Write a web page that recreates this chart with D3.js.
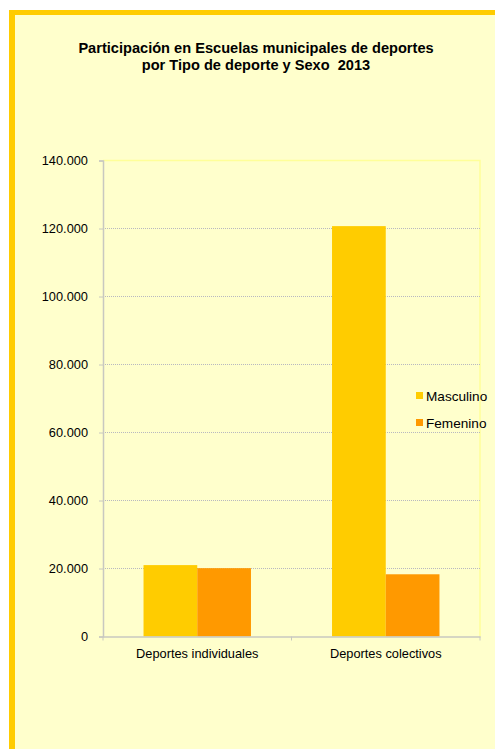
<!DOCTYPE html>
<html>
<head>
<meta charset="utf-8">
<script src="https://cdn.jsdelivr.net/npm/d3@7"></script>
<style>
  body { margin: 0; background: #fff; }
  text { font-family: "Liberation Sans", Arial, sans-serif; fill: #000; }
</style>
</head>
<body>
<svg id="chart" width="495" height="749"></svg>
<script>
// chart data
var categories = ["Deportes individuales", "Deportes colectivos"];
var series = ["Masculino", "Femenino"];
var masculino = [21000, 120700];
var femenino = [20100, 18300];
var yTicks = [0, 20000, 40000, 60000, 80000, 100000, 120000, 140000];
var colors = ["#FFCC00", "#FF9900"];

var svg = d3.select("#chart");

// outer frame
svg.append("rect").attr("x", 9).attr("y", 10).attr("width", 486).attr("height", 739)
    .attr("fill", "#FFCC00");
svg.append("rect").attr("x", 15).attr("y", 15).attr("width", 480).attr("height", 734)
    .attr("fill", "#FFFFCC");

// title
var title = svg.append("text").attr("text-anchor", "middle")
    .style("font-weight", "bold").style("font-size", "14.6px").style("white-space", "pre");
title.append("tspan").attr("x", 256).attr("y", 53).text("Participación en Escuelas municipales de deportes");
title.append("tspan").attr("x", 256).attr("y", 69.5).text("por Tipo de deporte y Sexo  2013");

var margin = {left: 103, top: 160.5, right: 480, bottom: 636.5};

var x = d3.scaleBand().domain(categories).range([margin.left, margin.right]).paddingInner(0).paddingOuter(0);
var y = d3.scaleLinear().domain([0, 140000]).range([margin.bottom, margin.top]);

// plot area border (top/right)
svg.append("path")
    .attr("d", "M" + margin.left + "," + margin.top + "H" + margin.right + "V" + margin.bottom)
    .attr("fill", "none").attr("stroke", "#FFFF99").attr("stroke-width", 1.5);

// gridlines
svg.append("g").selectAll("line")
    .data(yTicks.filter(function(d) { return d > 0 && d < 140000; }))
    .enter().append("line")
    .attr("x1", margin.left).attr("x2", margin.right)
    .attr("y1", function(d) { return y(d); }).attr("y2", function(d) { return y(d); })
    .attr("stroke", "#B8B8C0").attr("stroke-width", 1).attr("stroke-dasharray", "1,1");

// bars
var groupW = x.bandwidth() * 0.57;
var sub = d3.scaleBand().domain(series).range([0, groupW]);
var values = [masculino, femenino];

series.forEach(function(s, si) {
    svg.append("g").selectAll("rect")
        .data(categories)
        .enter().append("rect")
        .attr("x", function(c) { return x(c) + (x.bandwidth() - groupW) / 2 + sub(s); })
        .attr("y", function(c, i) { return y(values[si][i]); })
        .attr("width", sub.bandwidth())
        .attr("height", function(c, i) { return y(0) - y(values[si][i]); })
        .attr("fill", colors[si]);
});

// y axis
var yAxis = svg.append("g")
    .attr("transform", "translate(" + margin.left + ",0)")
    .call(d3.axisLeft(y).tickValues(yTicks).tickSize(4).tickPadding(11)
        .tickFormat(function(d) { return d3.format(",")(d).replace(/,/g, "."); }));
yAxis.select(".domain").attr("stroke", "#C8C8C0").attr("stroke-width", 1.5);
yAxis.selectAll(".tick line").attr("stroke", "#C8C8C0");
yAxis.selectAll("text").style("font-size", "12.8px");

// x axis
var xAxis = svg.append("g")
    .attr("transform", "translate(0," + margin.bottom + ")")
    .call(d3.axisBottom(x).tickSize(0).tickPadding(12));
xAxis.select(".domain").attr("stroke", "#C8C8C0").attr("stroke-width", 1.5);
xAxis.selectAll("text").style("font-size", "12.8px");
svg.append("g").selectAll("line")
    .data([margin.left, x(categories[1]), margin.right])
    .enter().append("line")
    .attr("x1", function(d) { return d; }).attr("x2", function(d) { return d; })
    .attr("y1", margin.bottom).attr("y2", margin.bottom + 4)
    .attr("stroke", "#C8C8C0");

// legend
var legend = svg.append("g").selectAll("g")
    .data(series)
    .enter().append("g")
    .attr("transform", function(d, i) { return "translate(416," + (392 + i * 27) + ")"; });
legend.append("rect").attr("width", 7).attr("height", 7)
    .attr("fill", function(d, i) { return colors[i]; });
legend.append("text").attr("x", 10).attr("y", 9).style("font-size", "13.6px")
    .text(function(d) { return d; });
</script>
</body>
</html>
